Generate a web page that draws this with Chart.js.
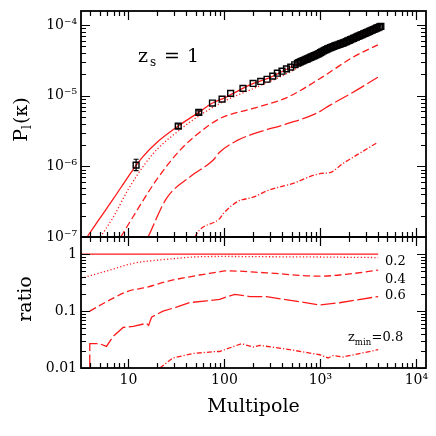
<!DOCTYPE html>
<html><head><meta charset="utf-8">
<script src="https://cdn.jsdelivr.net/npm/chart.js@4/dist/chart.umd.min.js"></script>
<style>
html,body{margin:0;padding:0;background:#fff;width:436px;height:436px;overflow:hidden;position:relative}
canvas{position:absolute;left:0}
#ctop{top:-20px}
#cbot{top:217px}
</style>
</head><body>
<canvas id="ctop" width="436" height="290"></canvas>
<canvas id="cbot" width="436" height="219"></canvas>
<script>
// ---------------- data ----------------
// Top panel: P_l(kappa) for different z_min cuts
const ellFull = [3.7, 5, 7, 10, 14, 20, 33, 54, 75, 100, 150, 200, 300, 500, 800, 1200, 2000, 3000, 4300];
const pFull   = [1.0e-7, 1.82e-7, 3.51e-7, 7.24e-7, 1.35e-6, 2.21e-6, 3.72e-6, 5.81e-6, 7.87e-6, 9.33e-6, 1.24e-5, 1.49e-5, 1.82e-5, 2.57e-5, 3.52e-5, 4.59e-5, 6.15e-5, 7.83e-5, 9.77e-5];

const ellZ02 = [5.1, 7, 10, 15, 20, 33, 55, 100, 200, 442, 908, 2000, 4300];
const pZ02   = [1.0e-7, 1.95e-7, 4.79e-7, 1.10e-6, 1.76e-6, 3.16e-6, 5.25e-6, 8.4e-6, 1.26e-5, 2.04e-5, 3.51e-5, 5.55e-5, 8.6e-5];

const ellZ04 = [8.3, 11.2, 19.5, 34, 55, 89, 199, 442, 985, 2190, 3970];
const pZ04   = [1.0e-7, 1.95e-7, 6.37e-7, 1.66e-6, 3.02e-6, 4.73e-6, 6.61e-6, 9.33e-6, 1.74e-5, 3.51e-5, 5.25e-5];

const ellZ06 = [16, 24.9, 43.6, 76, 89, 133, 199, 442, 908, 1250, 2190, 3970];
const pZ06   = [1.0e-7, 3.51e-7, 7.08e-7, 1.22e-6, 1.58e-6, 2.29e-6, 2.88e-6, 3.98e-6, 5.62e-6, 7.30e-6, 1.12e-5, 1.82e-5];

const ellZ08 = [49, 55, 89, 97, 145, 156, 206, 273, 520, 1020, 1250, 1720, 2380, 3850];
const pZ08   = [1.0e-7, 1.26e-7, 1.82e-7, 2.14e-7, 3.31e-7, 3.39e-7, 3.72e-7, 4.47e-7, 5.75e-7, 7.94e-7, 8.13e-7, 1.10e-6, 1.44e-6, 2.14e-6];

// Simulation measurements (open squares); dense at high multipole
const ellPts = [12, 33, 54, 75, 94.5, 116, 156, 199, 239, 278, 319, 356, 398, 443, 491, 540, 576,
  596, 617, 639, 661, 685, 708, 733, 759, 786, 813, 842, 871, 902, 933, 966, 1000, 1035, 1072,
  1109, 1148, 1189, 1230, 1274, 1318, 1365, 1413, 1462, 1514, 1567, 1622, 1679, 1738, 1799,
  1862, 1928, 1995, 2065, 2138, 2213, 2291, 2371, 2455, 2541, 2630, 2723, 2818, 2917, 3020,
  3126, 3236, 3350, 3467, 3589, 3715, 3846, 3981, 4121, 4266];
const pPts = [1.04e-6, 3.72e-6, 5.81e-6, 7.87e-6, 8.95e-6, 1.08e-5, 1.27e-5, 1.49e-5, 1.59e-5, 1.71e-5, 1.89e-5, 2.08e-5, 2.22e-5, 2.40e-5, 2.54e-5, 2.74e-5, 2.88e-5,
  2.94e-5, 3.01e-5, 3.07e-5, 3.13e-5, 3.20e-5, 3.27e-5, 3.33e-5, 3.40e-5, 3.48e-5, 3.55e-5, 3.62e-5, 3.70e-5, 3.78e-5, 3.86e-5, 3.94e-5, 4.07e-5, 4.18e-5, 4.29e-5,
  4.40e-5, 4.50e-5, 4.59e-5, 4.69e-5, 4.79e-5, 4.88e-5, 4.97e-5, 5.06e-5, 5.14e-5, 5.22e-5, 5.31e-5, 5.40e-5, 5.49e-5, 5.60e-5, 5.71e-5,
  5.83e-5, 5.96e-5, 6.08e-5, 6.21e-5, 6.34e-5, 6.47e-5, 6.61e-5, 6.75e-5, 6.89e-5, 7.03e-5, 7.18e-5, 7.33e-5, 7.48e-5, 7.64e-5, 7.80e-5,
  7.96e-5, 8.13e-5, 8.30e-5, 8.47e-5, 8.65e-5, 8.83e-5, 9.02e-5, 9.20e-5, 9.40e-5, 9.59e-5];
// error bars (only the visible ones)
const ellErr = [12, 33, 54];
const pErrLo = [0.87e-6, 3.45e-6, 5.5e-6];
const pErrHi = [1.26e-6, 4.0e-6, 6.1e-6];

// Bottom panel: ratios
const ellR00 = [3.2, 4000];
const rR00   = [1, 1];
const ellR02 = [3.2, 6.4, 11.2, 24.9, 55, 100, 300, 1000, 4000];
const rR02   = [0.376, 0.525, 0.69, 0.81, 0.90, 0.91, 0.90, 0.89, 0.87];
const ellR04 = [3.95, 6.4, 10, 15.4, 24.9, 55, 89, 100, 273, 985, 2020, 4000];
const rR04   = [0.1, 0.157, 0.225, 0.26, 0.33, 0.43, 0.49, 0.51, 0.47, 0.41, 0.45, 0.525];
const ellR06 = [3.95, 3.95, 5.0, 5.9, 6.9, 8.8, 11.2, 15.4, 16.2, 17.4, 22.9, 31.6, 43.5, 65, 89, 128, 183, 273, 985, 1580, 4000];
const rR06   = [0.001, 0.0267, 0.0267, 0.024, 0.0358, 0.0515, 0.0537, 0.061, 0.056, 0.078, 0.1, 0.117, 0.141, 0.151, 0.161, 0.197, 0.18, 0.18, 0.128, 0.14, 0.18];
const ellR08 = [21.2, 29, 47, 82.6, 89, 150, 200, 233, 478, 985, 1200, 1350, 1722, 4000];
const rR08   = [0.01, 0.015, 0.018, 0.0195, 0.0195, 0.0267, 0.0234, 0.025, 0.021, 0.0171, 0.015, 0.0165, 0.0156, 0.021];

// axes & ticks
const xMin = 3.2, xMax = 12600;
const yTopMin = 1e-7, yTopMax = 1.58e-4;
const yBotMin = 0.01, yBotMax = 2;
const xTickVals = [10, 100, 1000, 10000];
const xTickLabels = ['10', '100', '10\u00B3', '10\u2074'];
const yTopTickVals = [1e-7, 1e-6, 1e-5, 1e-4];
const yTopTickLabels = ['10\u207B\u2077', '10\u207B\u2076', '10\u207B\u2075', '10\u207B\u2074'];
const yBotTickVals = [0.01, 0.1, 1];
const yBotTickLabels = ['0.01', '0.1', '1'];
const ratioLabels = ['0.2', '0.4', '0.6'];
const lastLabelMain = 'z', lastLabelSub = 'min', lastLabelVal = '=0.8';
const panelMain = 'z', panelSub = 's', panelVal = '=', panelNum = '1';

// ---------------- styling ----------------
const RED = '#ff1a1a';
const FONT = "'DejaVu Serif', 'Liberation Serif', serif";
const LW = 1.3;
const dashes = { full: [], z02: [1.2, 2.2], z04: [7, 3.5], z06: [15, 3.5], z08: [5, 2, 1.2, 2] };

function pts(xs, ys) { return xs.map((x, i) => ({ x, y: ys[i] })); }
function lineDs(xs, ys, dash, smooth) {
  const ds = { data: pts(xs, ys), showLine: true, borderColor: RED, borderWidth: LW, borderDash: dash,
           pointRadius: 0, fill: false, tension: 0, yAxisID: 'y' };
  if (smooth) ds.cubicInterpolationMode = 'monotone';
  return ds;
}

function logMarks(min, max, cb) {
  for (let k = Math.floor(Math.log10(min)); k <= Math.ceil(Math.log10(max)); k++) {
    for (let d = 1; d <= 9; d++) {
      const v = d * Math.pow(10, k);
      if (v >= min * 0.9999 && v <= max * 1.0001) cb(v, d === 1);
    }
  }
}
const framePlugin = {
  id: 'frame',
  afterDatasetsDraw(chart) {
    const { ctx, chartArea: a } = chart;
    const xs = chart.scales.x, ys = chart.scales.y;
    ctx.save();
    ctx.strokeStyle = '#000';
    ctx.lineWidth = 1.2;
    ctx.beginPath();
    logMarks(xs.min, xs.max, (v, maj) => {
      const p = Math.round(xs.getPixelForValue(v)) + 0.5, L = maj ? 9 : 5;
      ctx.moveTo(p, a.bottom); ctx.lineTo(p, a.bottom - L);
      ctx.moveTo(p, a.top); ctx.lineTo(p, a.top + L);
    });
    logMarks(ys.min, ys.max, (v, maj) => {
      const p = Math.round(ys.getPixelForValue(v)) + 0.5, L = maj ? 9 : 5;
      ctx.moveTo(a.left, p); ctx.lineTo(a.left + L, p);
      ctx.moveTo(a.right, p); ctx.lineTo(a.right - L, p);
    });
    ctx.stroke();
    ctx.lineWidth = 1.8;
    ctx.strokeRect(a.left, a.top, a.right - a.left, a.bottom - a.top);
    ctx.restore();
  }
};

const errPlugin = {
  id: 'errbars',
  afterDatasetsDraw(chart) {
    const { ctx } = chart;
    const xs = chart.scales.x, ys = chart.scales.y;
    ctx.save();
    ctx.strokeStyle = '#000'; ctx.lineWidth = 1.2;
    ctx.beginPath();
    ellErr.forEach((l, i) => {
      const px = xs.getPixelForValue(l);
      const y1 = ys.getPixelForValue(pErrLo[i]), y2 = ys.getPixelForValue(pErrHi[i]);
      ctx.moveTo(px, y1); ctx.lineTo(px, y2);
      ctx.moveTo(px - 2.5, y1); ctx.lineTo(px + 2.5, y1);
      ctx.moveTo(px - 2.5, y2); ctx.lineTo(px + 2.5, y2);
    });
    ctx.stroke();
    ctx.restore();
  }
};

// text helpers (absolute page y -> canvas y via offset)
function topText(chart) {
  const ctx = chart.ctx, off = 20;
  ctx.save();
  ctx.fillStyle = '#000';
  ctx.textBaseline = 'alphabetic';
  ctx.textAlign = 'left';
  ctx.font = '19px ' + FONT;
  ctx.fillText(panelMain, 138, 61.7 + off);
  ctx.font = '12px ' + FONT;
  ctx.fillText(panelSub, 150, 66 + off);
  ctx.font = '19px ' + FONT;
  ctx.fillText(panelVal, 164, 61.7 + off);
  ctx.fillText(panelNum, 187, 61.7 + off);
  // y title P_l(kappa)
  ctx.translate(26.7, 119.5 + off);
  ctx.rotate(-Math.PI / 2);
  ctx.font = '19px ' + FONT;
  const wP = ctx.measureText('P').width;
  const wK = ctx.measureText('(\u03BA)').width;
  ctx.font = '12px ' + FONT;
  const wl = ctx.measureText('l').width;
  let x0 = -(wP + wl + 1 + wK) / 2;
  ctx.font = '19px ' + FONT;
  ctx.fillText('P', x0, 0);
  ctx.font = '12px ' + FONT;
  ctx.fillText('l', x0 + wP, 4);
  ctx.font = '19px ' + FONT;
  ctx.fillText('(\u03BA)', x0 + wP + wl + 1, 0);
  ctx.restore();
}
function botText(chart) {
  const ctx = chart.ctx, off = -217;
  ctx.save();
  ctx.fillStyle = '#000';
  ctx.textAlign = 'left';
  ctx.textBaseline = 'middle';
  ctx.font = '13px ' + FONT;
  const ly = [261.7, 279.3, 295.7];
  ratioLabels.forEach((t, i) => ctx.fillText(t, 385, ly[i] + off));
  ctx.textBaseline = 'alphabetic';
  ctx.font = '13px ' + FONT;
  ctx.fillText(lastLabelMain, 348, 340.7 + off);
  let w = ctx.measureText(lastLabelMain).width;
  ctx.font = '8.5px ' + FONT;
  ctx.fillText(lastLabelSub, 348 + w, 345 + off);
  const w2 = ctx.measureText(lastLabelSub).width;
  ctx.font = '13px ' + FONT;
  ctx.fillText(lastLabelVal, 348 + w + w2 + 0.5, 340.7 + off);
  ctx.font = '19px ' + FONT;
  ctx.textAlign = 'center';
  ctx.fillText('Multipole', 253.5, 411.5 + off);
  ctx.translate(30.5, 299 + off);
  ctx.rotate(-Math.PI / 2);
  ctx.fillText('ratio', 0, 0);
  ctx.restore();
}

function xScale(show) {
  return {
    type: 'logarithmic', min: xMin, max: xMax, display: show,
    grid: { display: false, drawTicks: false }, border: { display: false },
    afterBuildTicks: s => { s.ticks = xTickVals.map(v => ({ value: v })); },
    afterFit: s => { if (show) s.height = 68; },
    ticks: { autoSkip: false, maxRotation: 0, padding: 4, color: '#000',
             font: { family: FONT, size: 14 }, callback: (v, i) => xTickLabels[i] }
  };
}
function yScale(min, max, vals, labels) {
  return {
    type: 'logarithmic', min, max, position: 'left',
    grid: { display: false, drawTicks: false }, border: { display: false },
    afterBuildTicks: s => { s.ticks = vals.map(v => ({ value: v })); },
    afterFit: s => { s.width = 81; },
    ticks: { autoSkip: false, padding: 4, color: '#000',
             font: { family: FONT, size: 14 }, callback: (v, i) => labels[i] }
  };
}
const common = {
  responsive: false, animation: false, events: [],
  plugins: { legend: { display: false }, tooltip: { enabled: false } },
  elements: { line: { borderCapStyle: 'butt' } }
};

new Chart(document.getElementById('ctop'), {
  type: 'scatter',
  data: { datasets: [
    { data: pts(ellPts, pPts), showLine: false, pointStyle: 'rect', pointRadius: 4.1,
      pointBorderColor: '#000', pointBackgroundColor: 'rgba(0,0,0,0)', pointBorderWidth: 1.4, yAxisID: 'y' },
    lineDs(ellFull, pFull, dashes.full, true),
    lineDs(ellZ02, pZ02, dashes.z02, true),
    lineDs(ellZ04, pZ04, dashes.z04, true),
    lineDs(ellZ06, pZ06, dashes.z06, true),
    lineDs(ellZ08, pZ08, dashes.z08, true)
  ] },
  options: Object.assign({}, common, {
    layout: { padding: { left: 0, right: 10, top: 31, bottom: 33 } },
    scales: { x: xScale(false), y: yScale(yTopMin, yTopMax, yTopTickVals, yTopTickLabels) }
  }),
  plugins: [framePlugin, errPlugin, { id: 'ttext', afterDraw: topText }]
});

new Chart(document.getElementById('cbot'), {
  type: 'scatter',
  data: { datasets: [
    lineDs(ellR00, rR00, dashes.full, false),
    lineDs(ellR02, rR02, dashes.z02, true),
    lineDs(ellR04, rR04, dashes.z04, true),
    lineDs(ellR06, rR06, dashes.z06, false),
    lineDs(ellR08, rR08, dashes.z08, false)
  ] },
  options: Object.assign({}, common, {
    layout: { padding: { left: 0, right: 10, top: 20, bottom: 0 } },
    scales: { x: xScale(true), y: yScale(yBotMin, yBotMax, yBotTickVals, yBotTickLabels) }
  }),
  plugins: [framePlugin, { id: 'btext', afterDraw: botText }]
});
</script>
</body></html>
